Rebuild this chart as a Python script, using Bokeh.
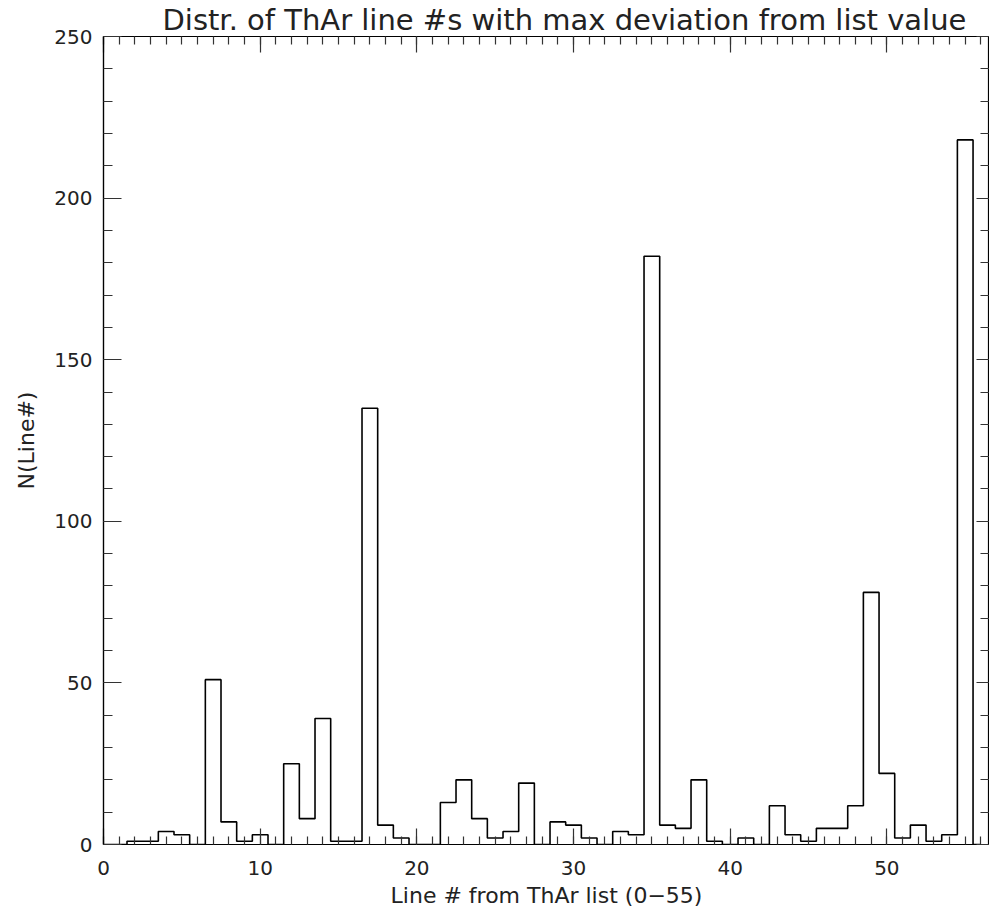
from bokeh.plotting import figure
from bokeh.models import Range1d, LinearAxis, SingleIntervalTicker, CustomJSTickFormatter
from bokeh.embed import file_html
from bokeh.resources import INLINE

# Histogram: bin centers (line #) and counts
line_numbers = list(range(0, 57))
counts = [0, 0, 1, 1, 4, 3, 0, 51, 7, 1,
          3, 0, 25, 8, 39, 1, 1, 135, 6, 2,
          0, 0, 13, 20, 8, 2, 4, 19, 0, 7,
          6, 2, 0, 4, 3, 182, 6, 5, 20, 1,
          0, 2, 0, 12, 3, 1, 5, 5, 12, 78,
          22, 2, 6, 1, 3, 218, 0]

title_text = "Distr. of ThAr line #s with max deviation from list value"
x_label = "Line # from ThAr list (0\u221255)"
y_label = "N(Line#)"

FONT = "DejaVu Sans"

p = figure(frame_width=886, frame_height=808, output_backend="svg", toolbar_location=None,
           x_range=Range1d(0, 56.55), y_range=Range1d(0, 250),
           min_border_left=103, min_border_right=0, min_border_top=30,
           min_border_bottom=64, x_axis_location=None, y_axis_location=None)

p.grid.visible = False
p.outline_line_color = "black"
p.outline_line_width = 1.2
p.background_fill_color = "white"
p.border_fill_color = "white"

p.title.text = title_text
p.title.text_font = FONT
p.title.text_font_size = "29px"
p.title.text_font_style = "normal"
p.title.text_color = "#222222"
p.title.align = "left"
p.title.offset = 59
p.title.standoff = 0

def style_axis(ax, major_len, minor_len, labels=True):
    ax.axis_line_color = "black"
    ax.axis_line_width = 1.2
    ax.major_tick_in = major_len
    ax.major_tick_out = 0
    ax.minor_tick_in = minor_len
    ax.minor_tick_out = 0
    ax.major_tick_line_color = "#333333"
    ax.minor_tick_line_color = "#333333"
    ax.major_tick_line_width = 1.2
    ax.minor_tick_line_width = 1.2
    if labels:
        ax.major_label_text_font = FONT
        ax.major_label_text_font_size = "20px"
        ax.major_label_text_color = "#222222"
        ax.axis_label_text_font = FONT
        ax.axis_label_text_font_size = "22px"
        ax.axis_label_text_font_style = "normal"
        ax.axis_label_text_color = "#222222"
    else:
        ax.formatter = CustomJSTickFormatter(code="return ''")
        ax.major_label_text_font_size = "1px"
        ax.major_label_standoff = 0

xt = lambda: SingleIntervalTicker(interval=10, num_minor_ticks=10)
yt = lambda: SingleIntervalTicker(interval=50, num_minor_ticks=5)

xb = LinearAxis(ticker=xt(), axis_label=x_label)
style_axis(xb, 16, 8)
xb.major_label_standoff = 16
xb.axis_label_standoff = 5
p.add_layout(xb, "below")

xa = LinearAxis(ticker=xt())
style_axis(xa, 16, 8, labels=False)
p.add_layout(xa, "above")

yl = LinearAxis(ticker=yt(), axis_label=y_label)
style_axis(yl, 18, 9)
yl.major_label_standoff = 11
yl.axis_label_standoff = 12
p.add_layout(yl, "left")

yr = LinearAxis(ticker=yt())
style_axis(yr, 13, 9, labels=False)
p.add_layout(yr, "right")

p.step(x=line_numbers, y=counts, mode="center", line_color="black", line_width=1.6)

open("out.html", "w").write(file_html(p, INLINE))
